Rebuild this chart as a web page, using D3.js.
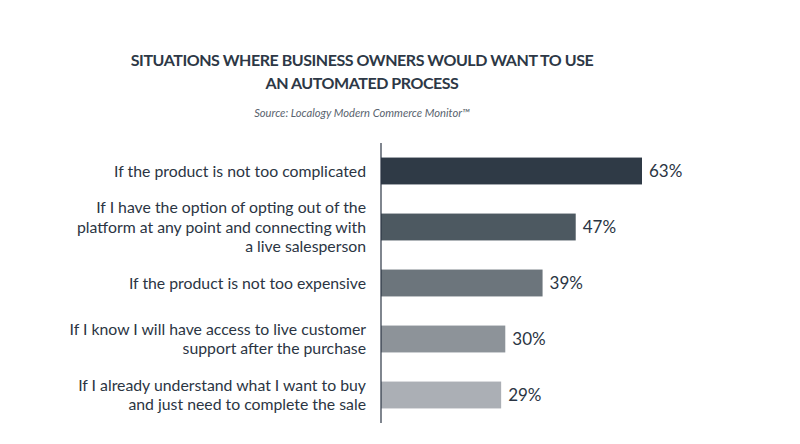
<!DOCTYPE html>
<html>
<head>
<meta charset="utf-8">
<script src="https://cdn.jsdelivr.net/npm/d3@7"></script>
<style>
  body { margin: 0; background: #fff; }
  svg { display: block; font-family: Lato, "Open Sans", sans-serif; }
</style>
</head>
<body>
<div id="chart"></div>
<script>
// data
var titleLines = ["SITUATIONS WHERE BUSINESS OWNERS WOULD WANT TO USE", "AN AUTOMATED PROCESS"];
var sourceNote = "Source: Localogy Modern Commerce Monitor\u2122";
var categories = [
  ["If the product is not too complicated"],
  ["If I have the option of opting out of the", "platform at any point and connecting with", "a live salesperson"],
  ["If the product is not too expensive"],
  ["If I know I will have access to live customer", "support after the purchase"],
  ["If I already understand what I want to buy", "and just need to complete the sale"]
];
var values = [63, 47, 39, 30, 29];
var barColors = ["#2f3a46", "#4d5961", "#6c757c", "#8d9399", "#abafb5"];

var width = 800, height = 444;
var margin = { top: 143, left: 381, bottom: 21 };
var textColor = "#2b3543";

var svg = d3.select("#chart").append("svg")
  .attr("width", width)
  .attr("height", height);

// title + source
var title = svg.append("text")
  .attr("text-anchor", "middle")
  .attr("fill", "#2d3846")
  .style("font-weight", "bold")
  .style("font-size", "16px")
  .style("letter-spacing", "-0.45px");
title.selectAll("tspan")
  .data(titleLines)
  .enter().append("tspan")
  .attr("x", 362)
  .attr("y", function (d, i) { return 66 + i * 23; })
  .text(function (d) { return d; });

svg.append("text")
  .attr("x", 362)
  .attr("y", 117)
  .attr("text-anchor", "middle")
  .attr("fill", "#59636e")
  .style("font-style", "italic")
  .style("font-size", "11.2px")
  .text(sourceNote);

// scales
var idx = d3.range(categories.length);
var y = d3.scaleBand()
  .domain(idx)
  .range([margin.top, height - margin.bottom])
  .paddingInner(0.52)
  .paddingOuter(0.26);

var x = d3.scaleLinear()
  .domain([0, 63])
  .range([margin.left, 642]);

// bars
svg.selectAll(".bar")
  .data(values)
  .enter().append("rect")
  .attr("class", "bar")
  .attr("x", x(0))
  .attr("y", function (d, i) { return y(i); })
  .attr("width", function (d) { return x(d) - x(0); })
  .attr("height", y.bandwidth())
  .attr("fill", function (d, i) { return barColors[i]; });

// value labels
svg.selectAll(".val")
  .data(values)
  .enter().append("text")
  .attr("class", "val")
  .attr("x", function (d) { return x(d) + 7; })
  .attr("y", function (d, i) { return y(i) + y.bandwidth() / 2 + 6; })
  .attr("fill", textColor)
  .style("font-size", "17px")
  .text(function (d) { return d + "%"; });

// category labels (multi-line, right aligned)
var lineH = 19.5;
var labels = svg.selectAll(".cat")
  .data(categories)
  .enter().append("text")
  .attr("class", "cat")
  .attr("text-anchor", "end")
  .attr("fill", textColor)
  .style("font-size", "15.8px");

labels.each(function (lines, i) {
  var cy = y(i) + y.bandwidth() / 2;
  var top = cy - (lines.length - 1) * lineH / 2 + 5.5;
  d3.select(this).selectAll("tspan")
    .data(lines)
    .enter().append("tspan")
    .attr("x", 366)
    .attr("y", function (d, j) { return top + j * lineH; })
    .text(function (d) { return d; });
});

// axis line
svg.append("line")
  .attr("x1", x(0)).attr("x2", x(0))
  .attr("y1", margin.top).attr("y2", height - margin.bottom)
  .attr("stroke", "#2b3543")
  .attr("stroke-width", 1.2);
</script>
</body>
</html>
